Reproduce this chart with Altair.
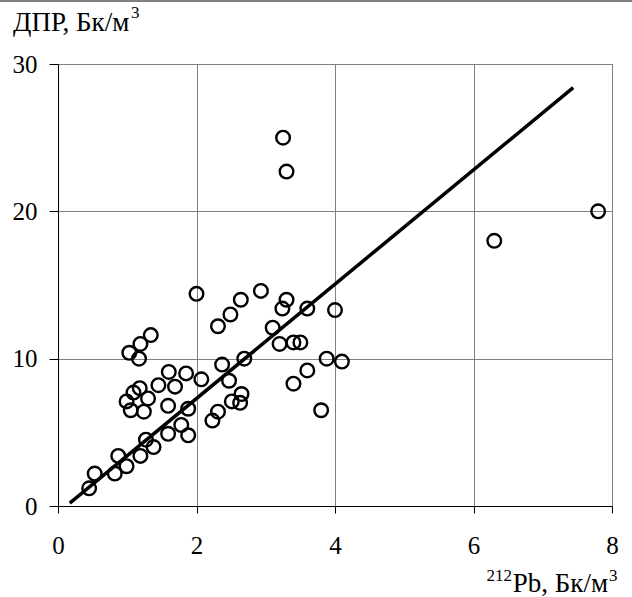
import altair as alt
import pandas as pd

# Scatter data: 212Pb (Bq/m3) vs DPR (Bq/m3)
pb = [0.45, 0.53, 0.82, 0.87, 0.99, 1.19, 1.27, 1.38, 1.59, 1.88,
      1.78, 1.59, 1.88, 0.99, 1.05, 1.24, 1.09, 1.18, 1.30, 1.45,
      1.60, 1.69, 1.85, 2.07, 1.03, 1.17, 1.19, 1.34, 2.00, 2.31,
      2.49, 2.64, 2.93, 3.25, 3.30, 3.30, 3.24, 3.60, 4.00, 3.10,
      3.20, 3.40, 3.50, 2.69, 2.37, 2.47, 2.65, 2.51, 2.63, 2.31,
      2.23, 3.40, 3.60, 3.88, 4.10, 3.80, 6.30, 7.80]
dpr = [1.2, 2.2, 2.2, 3.4, 2.7, 3.4, 4.5, 4.0, 4.9, 4.8,
       5.5, 6.8, 6.6, 7.1, 6.5, 6.4, 7.7, 8.0, 7.3, 8.2,
       9.1, 8.1, 9.0, 8.6, 10.4, 10.0, 11.0, 11.6, 14.4, 12.2,
       13.0, 14.0, 14.6, 25.0, 22.7, 14.0, 13.4, 13.4, 13.3, 12.1,
       11.0, 11.1, 11.1, 10.0, 9.6, 8.5, 7.6, 7.1, 7.0, 6.4,
       5.8, 8.3, 9.2, 10.0, 9.8, 6.5, 18.0, 20.0]

# Regression line endpoints
line_x = [0.17, 7.44]
line_y = [0.2, 28.4]

x_ticks = [0, 2, 4, 6, 8]
y_ticks = [0, 10, 20, 30]

y_title = "ДПР, Бк/м"
x_title = "Pb, Бк/м"
x_title_pre = "212"
sup = "3"

FONT = "'Liberation Serif', 'Times New Roman', Times, serif"

pts = pd.DataFrame({"x": pb, "y": dpr})
ln = pd.DataFrame({"x": line_x, "y": line_y})
one = pd.DataFrame({"a": [0]})

xscale = alt.Scale(domain=[0, 8], nice=False, zero=False)
yscale = alt.Scale(domain=[0, 30], nice=False, zero=False)

xaxis = alt.Axis(values=x_ticks, format="d", labelFont=FONT, labelFontSize=25,
                 labelColor="black", tickColor="black", domainColor="black",
                 tickSize=7, labelPadding=40, labelBaseline="alphabetic",
                 labelFlush=False, labelOverlap=False,
                 grid=True, gridColor="#808080", gridWidth=1, title=None)
yaxis = alt.Axis(values=y_ticks, format="d", labelFont=FONT, labelFontSize=25,
                 labelColor="black", tickColor="black", domainColor="black",
                 tickSize=9, labelPadding=12, labelOverlap=False,
                 grid=True, gridColor="#808080", gridWidth=1, title=None)

points = alt.Chart(pts).mark_point(shape="circle", filled=False, size=185,
                                    strokeWidth=2.4, color="black", opacity=1).encode(
    x=alt.X("x:Q", scale=xscale, axis=xaxis),
    y=alt.Y("y:Q", scale=yscale, axis=yaxis),
)

reg = alt.Chart(ln).mark_line(color="black", strokeWidth=3.5).encode(
    x=alt.X("x:Q", scale=xscale),
    y=alt.Y("y:Q", scale=yscale),
)

topline = alt.Chart(one).mark_rule(color="#808080", strokeWidth=2, clip=False).encode(
    x=alt.value(-58), x2=alt.value(574), y=alt.value(-63))


def txt(s, x, y, size, align):
    return alt.Chart(one).mark_text(font=FONT, fontSize=size, color="black",
                                    align=align, baseline="alphabetic",
                                    clip=False).encode(
        x=alt.value(x), y=alt.value(y), text=alt.value(s))


titles = [
    txt(y_title, -45, -33, 27, "left"),
    txt(sup, 73, -46, 17, "left"),
    txt(x_title, 550, 528, 27, "right"),
    txt(sup, 551, 517, 17, "left"),
    txt(x_title_pre, 454, 517, 17, "right"),
]

chart = alt.layer(points, reg, topline, *titles).properties(
    width=554, height=442,
    padding={"left": 58, "top": 64, "right": 20, "bottom": 91},
    autosize=alt.AutoSizeParams(type="none"),
    background="white",
).configure_view(stroke="black", strokeWidth=1)

chart.save("out.html", embed_options={"renderer": "svg", "actions": False})
